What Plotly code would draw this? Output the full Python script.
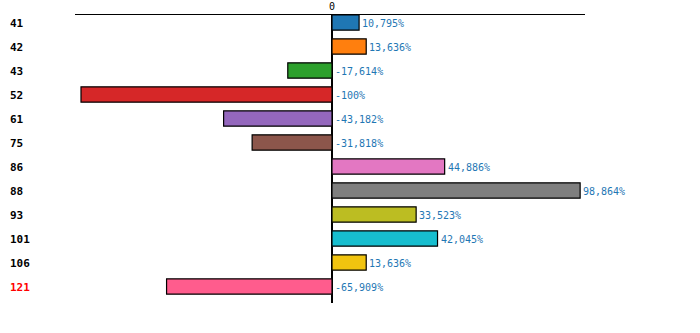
import plotly.graph_objects as go

categories = ["41", "42", "43", "52", "61", "75", "86", "88", "93", "101", "106", "121"]
values = [10.795, 13.636, -17.614, -100, -43.182, -31.818, 44.886, 98.864, 33.523, 42.045, 13.636, -65.909]
labels = ["10,795%", "13,636%", "-17,614%", "-100%", "-43,182%", "-31,818%", "44,886%", "98,864%", "33,523%", "42,045%", "13,636%", "-65,909%"]
colors = ["#1f77b4", "#ff7f0e", "#2ca02c", "#d62728", "#9467bd", "#8c564b", "#e377c2", "#7f7f7f", "#bcbd22", "#17becf", "#f1c40f", "#ff5c8d"]
label_colors = ["black"] * 11 + ["red"]

FONT = "DejaVu Sans Mono"
pos = list(range(len(categories)))

fig = go.Figure()
fig.add_trace(go.Bar(
    x=values, y=pos, orientation="h",
    marker=dict(color=colors, line=dict(color="black", width=1.2)),
    width=0.64, hoverinfo="skip",
))

annotations = []
for i, v, t in zip(pos, values, labels):
    annotations.append(dict(
        x=max(v, 0), y=i, xref="x", yref="y", text=t, showarrow=False,
        xanchor="left", xshift=1, yshift=-1, font=dict(family=FONT, size=10, color="#1f77b4"),
    ))
for i, c, col in zip(pos, categories, label_colors):
    annotations.append(dict(
        x=-67 / 510, y=i, xref="paper", yref="y", text="<b>%s</b>" % c, showarrow=False,
        xanchor="left", yshift=-1, font=dict(family=FONT, size=11, color=col),
    ))

fig.update_layout(
    width=700, height=333,
    margin=dict(l=75, r=115, t=15, b=30),
    paper_bgcolor="white", plot_bgcolor="white",
    showlegend=False,
    annotations=annotations,
    xaxis=dict(
        range=[-102.39, 100.8], side="top", showline=True, linecolor="black", linewidth=1,
        showgrid=False, zeroline=True, zerolinecolor="black", zerolinewidth=2,
        tickvals=[0], ticktext=["0"], ticks="", tickfont=dict(family=FONT, size=10, color="black"),
        automargin=False, fixedrange=True,
    ),
    yaxis=dict(
        range=[11.6875, -0.3125], showticklabels=False, showgrid=False, showline=False,
        zeroline=False, ticks="", automargin=False,
    ),
)

fig.write_html("out.html")
